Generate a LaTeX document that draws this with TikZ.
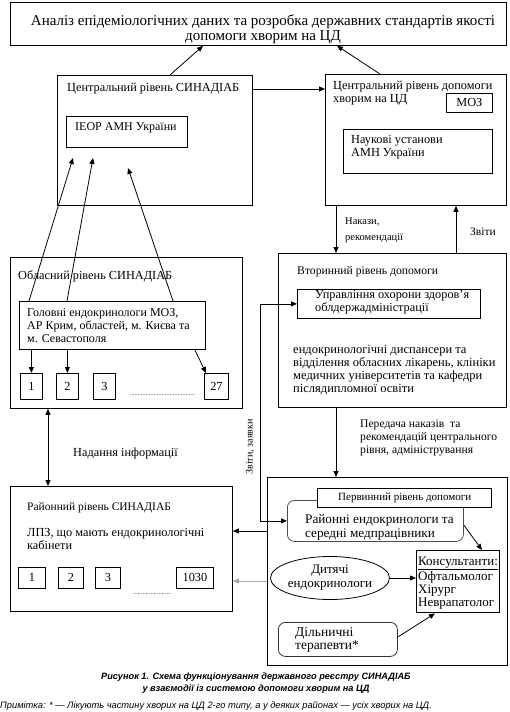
\documentclass[tikz,border=0pt]{standalone}
\usepackage{fontspec}
\setmainfont{Liberation Serif}
\newfontfamily\capfont{Liberation Sans}
\usetikzlibrary{shapes.geometric,arrows.meta,positioning}
\newcommand{\txtfont}{\fontsize{12.3}{13}\selectfont}
\newcommand{\midfont}{\fontsize{13.2}{13.5}\selectfont}
\newcommand{\bigfont}{\fontsize{15}{15.3}\selectfont}

\begin{document}
\begin{tikzpicture}[x=1pt,y=-1pt,
	frame/.style={draw,line width=0.8pt,anchor=north west,inner sep=0pt},
	lbl/.style={anchor=north west,inner sep=0pt,align=left,font=\txtfont},
	num/.style={draw,line width=0.8pt,anchor=north west,inner sep=0pt,font=\txtfont},
	arr/.style={-{Triangle[length=6pt,width=5pt]},line width=0.8pt},
	arrs/.style={{Triangle[length=6pt,width=5pt]}-{Triangle[length=6pt,width=5pt]},line width=0.8pt},
	dots/.style={draw=gray!70,line width=0.6pt,densely dotted}
]
	\useasboundingbox (0,0) rectangle (510,712);
	% top
	\node[frame,minimum width=496pt,minimum height=43pt] (analiz) at (10,2) {};
	\node[anchor=north,inner sep=0pt,align=center,font=\bigfont] (analiztxt) at (263,14.5) {Аналіз епідеміологічних даних та розробка державних стандартів якості\\допомоги хворим на ЦД};
	% central level
	\node[frame,minimum width=195pt,minimum height=130pt] (censin) at (57,75) {};
	\node[lbl] (censintxt) at (67,82.5) {Центральний рівень СИНАДІАБ};
	\node[frame,minimum width=121pt,minimum height=31pt] (ieor) at (66,116) {};
	\node[lbl,font=\fontsize{12}{13}\selectfont] (ieortxt) at (75,122.5) {ІЕОР АМН України};
	\node[frame,minimum width=181pt,minimum height=131pt] (cendop) at (325,74) {};
	\node[lbl] (cendoptxt) at (333,80.5) {Центральний рівень допомоги\\хворим на ЦД};
	\node[frame,minimum width=46pt,minimum height=19pt,font=\txtfont] (moz) at (446,93) {МОЗ};
	\node[frame,minimum width=149pt,minimum height=44pt] (nauk) at (343,129) {};
	\node[lbl] (nauktxt) at (351,135.5) {Наукові установи\\АМН України};
	\node[lbl,font=\fontsize{10.5}{15.5}\selectfont] (nakazy) at (345,217.5) {Накази,\\рекомендації};
	\node[lbl,font=\fontsize{11.5}{13}\selectfont] (zvity) at (470,228) {Звіти};
	% oblast level
	\node[frame,minimum width=232pt,minimum height=151pt] (obl) at (10,257) {};
	\node[lbl] (obltxt) at (18,270.5) {Обласний рівень СИНАДІАБ};
	\node[frame,minimum width=186pt,minimum height=48pt] (golov) at (19,301) {};
	\node[lbl,font=\fontsize{12}{13}\selectfont] (golovtxt) at (27,308.5) {Головні ендокринологи МОЗ,\\АР Крим, областей, м. Києва та\\м. Севастополя};
	\node[num,minimum width=22pt,minimum height=26pt] (o1) at (20,373) {1};
	\node[num,minimum width=22pt,minimum height=26pt] (o2) at (56,373) {2};
	\node[num,minimum width=22pt,minimum height=26pt] (o3) at (93,373) {3};
	\node[num,minimum width=24pt,minimum height=26pt] (o27) at (204,373) {27};
	\draw[dots] (130,394) -- (195,394);
	\coordinate (t1) at (73,158);
	\coordinate (t2) at (93,158);
	\coordinate (t3) at (128,168);
	% secondary level
	\node[frame,minimum width=228pt,minimum height=154pt] (vtor) at (278,253) {};
	\node[lbl,font=\fontsize{11.7}{13}\selectfont] (vtortxt) at (297,266) {Вторинний рівень допомоги};
	\node[frame,minimum width=183pt,minimum height=29pt] (upr) at (297,289) {};
	\node[lbl] (uprtxt) at (315,290) {Управління охорони здоров’я\\облдержадміністрації};
	\node[lbl,font=\fontsize{12.5}{13}\selectfont] (vtorbody) at (293,345.5) {ендокринологічні диспансери та\\відділення обласних лікарень, клініки\\медичних університетів та кафедри\\післядипломної освіти};
	\node[lbl,font=\fontsize{11.6}{13}\selectfont] (peredacha) at (360,420) {Передача наказів~ та\\рекомендацій центрального\\рівня, адміністрування};
	% district level
	\node[frame,minimum width=222pt,minimum height=125pt] (ray) at (10,486) {};
	\node[lbl,font=\fontsize{11.5}{13}\selectfont] (raytxt) at (27,502) {Районний рівень СИНАДІАБ};
	\node[lbl] (lpz) at (27,528.5) {ЛПЗ, що мають ендокринологічні\\кабінети};
	\node[num,minimum width=27pt,minimum height=21pt] (r1) at (18,567) {1};
	\node[num,minimum width=25pt,minimum height=21pt] (r2) at (58,567) {2};
	\node[num,minimum width=25pt,minimum height=21pt] (r3) at (95,567) {3};
	\node[num,minimum width=37pt,minimum height=21pt] (r1030) at (176,567) {1030};
	\draw[dots] (133,593) -- (170,593);
	\node[lbl] (nadannya) at (73,447.5) {Надання інформації};
	\node[rotate=90,inner sep=0pt,font=\fontsize{10}{12}\selectfont] (zvz) at (250,447) {Звіти, заявки};
	% primary level
	\node[frame,minimum width=240pt,minimum height=188pt] (perv) at (267,477) {};
	\node[frame,draw=black!70,rounded corners=7pt,minimum width=176pt,minimum height=41pt] (raien) at (287,500) {};
	\node[lbl,font=\midfont] (raientxt) at (305,514.5) {Районні ендокринологи та\\середні медпрацівники};
	\node[frame,fill=white,line width=1.4pt,minimum width=174pt,minimum height=19pt,font=\fontsize{11}{13}\selectfont] (pervtxt) at (317,488) {Первинний рівень допомоги};
	\node[ellipse,draw,line width=0.8pt,minimum width=105pt,minimum height=43pt,inner sep=0pt,align=center,font=\fontsize{13}{14}\selectfont] (dyt) at (330,578) {Дитячі\\ендокринологи};
	\node[frame,line width=1.4pt,minimum width=83pt,minimum height=62pt] (kons) at (416,550) {};
	\node[lbl,font=\fontsize{13}{13}\selectfont] (konstxt) at (418,556.5) {\underline{Консультанти:}\\Офтальмолог\\Хірург\\Неврапатолог};
	\node[frame,draw=black!80,rounded corners=7pt,minimum width=119pt,minimum height=34pt] (dil) at (278,622) {};
	\node[lbl,font=\fontsize{13.5}{13}\selectfont] (diltxt) at (295,627.5) {Дільничні\\терапевти*};
	% caption
	\node[inner sep=0pt,align=center,font=\capfont\bfseries\itshape\fontsize{9.2}{12}\selectfont] (capt) at (256,683) {Рисунок 1. Схема функціонування державного реєстру СИНАДІАБ\\у взаємодії із системою допомоги хворим на ЦД};
	\node[anchor=west,inner sep=0pt,font=\capfont\itshape\fontsize{9.3}{11}\selectfont] (note) at (0,706) {Примітка: * — Лікують частину хворих на ЦД 2-го типу, а у деяких районах — усіх хворих на ЦД.};
	% connectors
	\draw[arr] ([xshift=113pt]censin.north west) -- ([xshift=193pt]analiz.south west);
	\draw[arr] ([xshift=55pt]cendop.north west) -- ([xshift=327pt]analiz.south west);
	\draw[arr] ([yshift=-14pt]censin.north east) coordinate (c1) -- (c1 -| cendop.west);
	\draw[arr] ([xshift=11pt]cendop.south west) -- ([xshift=11pt]cendop.south west |- vtor.north);
	\draw[arr] ([xshift=131pt]cendop.south west |- vtor.north) -- ([xshift=131pt]cendop.south west);
	\draw[arr] ([xshift=10pt]golov.north west) -- (t1);
	\draw[arr] ([xshift=48pt]golov.north west) -- (t2);
	\draw[arr] ([xshift=154pt]golov.north west) -- (t3);
	\draw[arr] (o1.north |- golov.south) -- (o1.north);
	\draw[arr] (o2.north |- golov.south) -- (o2.north);
	\draw[arr] ([xshift=-11pt]golov.south east) -- ([xshift=2pt]o27.north west);
	\draw[arrs] ([xshift=38pt]obl.south west) -- ([xshift=38pt]obl.south west |- ray.north);
	\draw[arrs] (raien.west) -- ++(-27,0) |- (upr.west);
	\draw[arr] ([xshift=58pt]vtor.south west) -- ([xshift=58pt]vtor.south west |- perv.north);
	\draw[arr] ([yshift=-54pt]perv.north west) coordinate (p1) -- (p1 -| ray.east);
	\draw[arr,draw=gray!70] ([yshift=-104pt]perv.north west) coordinate (p2) -- (p2 -| ray.east);
	\draw[arr] ([yshift=-25pt]raien.north east) -- ([xshift=66pt]kons.north west);
	\draw[arr] (dyt.east) -- (dyt.east -| kons.west);
	\draw[arr] ([yshift=-15pt]dil.north east) -- ([xshift=19pt]kons.south west);
\end{tikzpicture}
\end{document}
